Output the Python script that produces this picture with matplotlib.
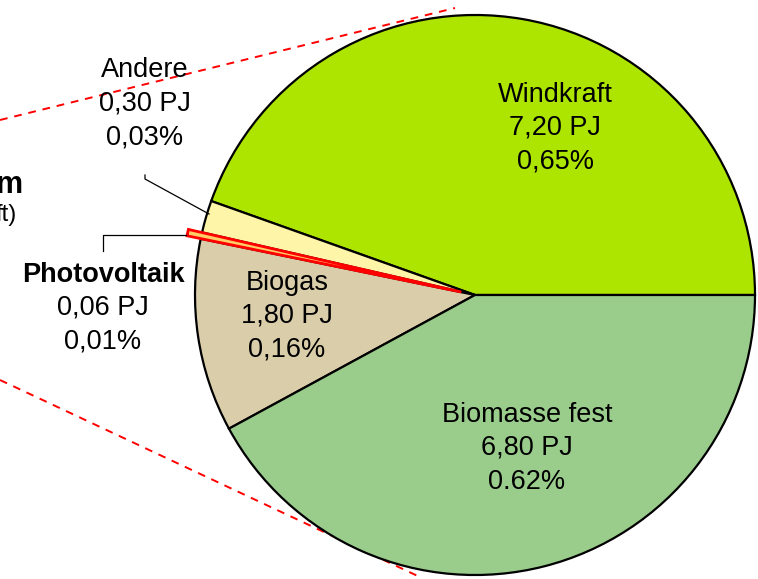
# -*- coding: utf-8 -*-
"""
Erneuerbare Energien - Aufteilung (Kreisdiagramm, Ausschnitt)
"""

import matplotlib.pyplot as plt

plt.rcParams['font.family'] = ['Liberation Sans', 'DejaVu Sans']

# Daten
sources = ['Windkraft', 'Andere', 'Photovoltaik', 'Biogas', 'Biomasse fest']
energy_pj = [7.20, 0.30, 0.06, 1.80, 6.80]
energy_labels = ['7,20 PJ', '0,30 PJ', '0,06 PJ', '1,80 PJ', '6,80 PJ']
share_labels = ['0,65%', '0,03%', '0,01%', '0,16%', '0.62%']
colors = ['#ADE500', '#FFF5A8', '#FFCC66', '#DACDAA', '#9ACD8C']


def render_pie(output_image_path):
    fig = plt.figure(figsize=(7.58, 5.79), dpi=100)
    ax = fig.add_axes([0, 0, 1, 1])

    # Kreis in Pixelkoordinaten (y nach oben)
    cx, cy, r = 475, 284, 280
    # explode wird in Datenkoordinaten verschoben (hier Pixel)
    explode = [0, 0, 14, 0, 0]
    wedges, _ = ax.pie(energy_pj, colors=colors, startangle=0, counterclock=True,
                       center=(cx, cy), radius=r, explode=explode,
                       wedgeprops=dict(edgecolor='black', linewidth=1.6))
    # Photovoltaik hervorgehoben
    wedges[2].set_edgecolor('#FF0000')
    wedges[2].set_linewidth(2.0)
    wedges[2].set_zorder(5)

    ax.set_xlim(0, 758)
    ax.set_ylim(0, 579)
    ax.set_aspect('equal')
    ax.axis('off')

    # Verbindungslinien zum linken Diagramm
    ax.plot([0, 455], [459, 571], color='#FF0000', linestyle=(0, (4, 3.5)), linewidth=1.4, zorder=0)
    ax.plot([0, 422], [199, 1], color='#FF0000', linestyle=(0, (4, 3.5)), linewidth=1.4, zorder=0)

    # Beschriftungen (Pixelpositionen)
    label_pos = {
        'Windkraft': (555, 484),
        'Andere': (145, 509),
        'Photovoltaik': (103, 304),
        'Biogas': (287, 296),
        'Biomasse fest': (527, 164),
    }
    for name, pj, pct in zip(sources, energy_labels, share_labels):
        x, y = label_pos[name]
        weight = 'bold' if name == 'Photovoltaik' else 'normal'
        ax.text(x, y, name, ha='center', va='center', fontsize=19.5, fontweight=weight, zorder=6)
        ax.text(x, y - 33, pj, ha='center', va='center', fontsize=19.5, zorder=6)
        ax.text(x, y - 67, pct, ha='center', va='center', fontsize=19.5, zorder=6)

    # Führungslinien
    ax.plot([145, 145, 209], [404, 400, 365], color='black', linewidth=0.9, zorder=6)
    ax.plot([103, 103, 186], [328, 344, 344], color='black', linewidth=0.9, zorder=6)

    # abgeschnittener Text vom linken Diagramm
    ax.text(23, 394, 'm', ha='right', va='center', fontsize=22, fontweight='bold')
    ax.text(17, 364, 'ft)', ha='right', va='center', fontsize=17)

    plt.savefig(output_image_path, dpi=100, facecolor='white')


if __name__ == "__main__":
    render_pie('out.png')
